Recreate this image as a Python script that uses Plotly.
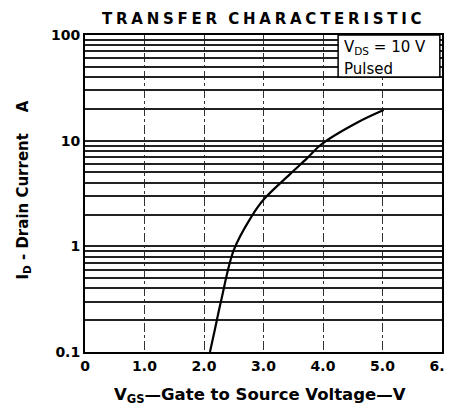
import plotly.graph_objects as go

# Transfer characteristic curve (VGS in V, ID in A)
vgs = [2.10, 2.17, 2.29, 2.50, 2.79, 3.01, 3.45, 3.73, 3.98, 4.57, 5.02]
id_a = [0.10, 0.151, 0.31, 0.92, 1.88, 2.80, 4.85, 6.80, 9.30, 14.8, 19.5]

x_ticks = [0, 1, 2, 3, 4, 5, 6]
x_labels = ["0", "1.0", "2.0", "3.0", "4.0", "5.0", "6.0"]
decades = [0.1, 1, 10, 100]
decade_labels = ["0.1", "1", "10", "100"]

# all log grid values 1..9 per decade
y_grid = []
y_text = []
for i, d in enumerate(decades[:-1]):
    for m in range(1, 10):
        y_grid.append(round(d * m, 6))
        y_text.append(decade_labels[i] if m == 1 else "")
y_grid.append(decades[-1])
y_text.append(decade_labels[-1])

FONT = "DejaVu Sans"

fig = go.Figure()
fig.add_trace(go.Scatter(x=vgs, y=id_a, mode="lines",
                         line=dict(color="black", width=2.2, shape="spline", smoothing=1.0),
                         showlegend=False, hoverinfo="skip"))

# page body has an 8px margin: size the figure so it fits the 453x413 window
fig.update_layout(
    width=445, height=405,
    margin=dict(l=77, r=11, t=27, b=61),
    paper_bgcolor="white", plot_bgcolor="white",
    font=dict(family=FONT, size=14, color="black", weight="bold"),
    showlegend=False,
)
fig.update_xaxes(range=[0, 6], tickvals=x_ticks, ticktext=x_labels, automargin=False,
                 ticklabeloverflow="allow",
                 showgrid=True, gridcolor="#333", gridwidth=1, griddash="dashdot",
                 zeroline=False, showline=True, linecolor="black", linewidth=2, mirror=True,
                 ticks="", tickfont=dict(family=FONT, size=14, weight="bold"))
fig.update_yaxes(type="log", range=[-1, 2], tickvals=y_grid, ticktext=y_text, automargin=False,
                 ticklabeloverflow="allow",
                 showgrid=True, gridcolor="#222", gridwidth=1.5,
                 zeroline=False, showline=True, linecolor="black", linewidth=2, mirror=True,
                 ticks="", tickfont=dict(family=FONT, size=14, weight="bold"))

sp4 = "\u2005"
title = sp4.join(list("TRANSFER")) + sp4 * 3 + sp4.join(list("CHARACTERISTIC"))

# legend box
fig.add_shape(type="rect", xref="paper", yref="paper", x0=0.709, x1=0.994, y0=0.8675, y1=1.0,
              fillcolor="white", line=dict(color="black", width=1.5), layer="above")

annots = [
    dict(text=title, x=0.496, y=1.052, xref="paper", yref="paper", showarrow=False,
         xanchor="center", yanchor="middle", font=dict(family=FONT, size=15, weight="bold")),
    dict(text="V<sub>GS</sub>\u2014Gate to Source Voltage\u2014V", x=0.49, y=-0.136,
         xref="paper", yref="paper", showarrow=False, xanchor="center", yanchor="middle",
         font=dict(family=FONT, size=16.5, weight="bold")),
    dict(text="I<sub>D</sub> - Drain Current\u00a0\u00a0\u00a0\u00a0A", x=-0.173, y=0.51,
         xref="paper", yref="paper", showarrow=False, textangle=-90,
         xanchor="center", yanchor="middle", font=dict(family=FONT, size=15, weight="bold")),
    dict(text="V<sub>DS</sub> = 10 V", x=0.72, y=0.96, xref="paper", yref="paper",
         showarrow=False, xanchor="left", yanchor="middle",
         font=dict(family=FONT, size=15, weight="normal")),
    dict(text="Pulsed", x=0.72, y=0.892, xref="paper", yref="paper",
         showarrow=False, xanchor="left", yanchor="middle",
         font=dict(family=FONT, size=15, weight="normal")),
]
fig.update_layout(annotations=annots)

fig.write_html("out.html")
